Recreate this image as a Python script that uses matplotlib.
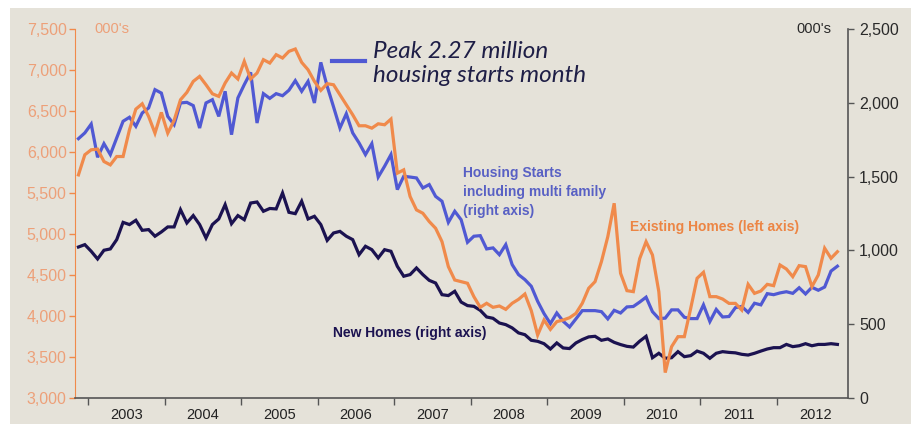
import matplotlib
matplotlib.use("Agg")
import matplotlib.pyplot as plt
import numpy as np
import pandas as pd
from matplotlib.patches import Rectangle
from matplotlib.lines import Line2D
from matplotlib.ticker import FixedLocator, NullFormatter, FixedFormatter

plt.rcParams['font.family'] = ['Liberation Sans', 'DejaVu Sans']

# ---------------- data (monthly, Nov 2002 - Oct 2012) ----------------
start_month = "2002-11"
existing_homes = [
    5721, 5966, 6027, 6035, 5884, 5843, 5945, 5945, 6271, 6523,
    6588, 6434, 6230, 6483, 6230, 6385, 6637, 6727, 6861, 6922,
    6820, 6710, 6678, 6841, 6963, 6890, 7105, 6890, 6963, 7126,
    7085, 7187, 7146, 7227, 7256, 7093, 7003, 6861, 6751, 6833,
    6820, 6698, 6576, 6454, 6320, 6320, 6291, 6344, 6332, 6401,
    5742, 5782, 5457, 5294, 5253, 5152, 5070, 4907, 4602, 4439,
    4419, 4399, 4236, 4106, 4155, 4106, 4122, 4081, 4155, 4203,
    4268, 4065, 3768, 3951, 3837, 3931, 3951, 3979, 4032, 4155,
    4338, 4419, 4663, 4968, 5375, 4521, 4309, 4297, 4700, 4906,
    4744, 4296, 3310, 3626, 3748, 3748, 4094, 4460, 4533, 4236,
    4236, 4207, 4154, 4154, 4073, 4386, 4276, 4305, 4386, 4370,
    4622, 4573, 4480, 4614, 4602, 4358, 4500, 4826, 4704, 4784,
]
housing_starts = [
    1757, 1796, 1856, 1631, 1723, 1649, 1762, 1875, 1902, 1841,
    1931, 1965, 2089, 2066, 1908, 1852, 1999, 2003, 1981, 1829,
    1999, 2021, 1908, 2078, 1784, 2033, 2123, 2206, 1863, 2062,
    2030, 2062, 2048, 2085, 2150, 2078, 2145, 1999, 2274, 2112,
    1972, 1829, 1926, 1796, 1728, 1649, 1723, 1497, 1570, 1649,
    1412, 1502, 1497, 1491, 1423, 1446, 1366, 1333, 1190, 1265,
    1208, 1055, 1096, 1100, 1010, 1017, 971, 1039, 904, 836,
    802, 757, 655, 572, 504, 576, 520, 481, 536, 592,
    592, 592, 585, 536, 594, 576, 617, 620, 650, 683,
    585, 538, 541, 597, 597, 547, 538, 538, 631, 518,
    600, 549, 552, 612, 620, 580, 642, 631, 707, 700,
    712, 720, 709, 747, 705, 750, 730, 752, 860, 893,
]
new_homes = [
    1023, 1039, 994, 942, 1001, 1010, 1073, 1190, 1175, 1204,
    1136, 1141, 1096, 1125, 1159, 1159, 1276, 1186, 1236, 1175,
    1084, 1175, 1213, 1310, 1181, 1236, 1208, 1321, 1328, 1265,
    1284, 1281, 1389, 1258, 1249, 1333, 1213, 1231, 1175, 1068,
    1118, 1129, 1096, 1073, 971, 1028, 1005, 949, 1005, 994,
    892, 825, 836, 881, 836, 797, 779, 700, 694, 723,
    650, 626, 621, 594, 549, 540, 508, 497, 475, 441,
    429, 391, 384, 368, 332, 373, 339, 335, 373, 396,
    414, 418, 391, 400, 377, 362, 350, 345, 385, 418,
    273, 303, 269, 273, 314, 280, 287, 318, 303, 269,
    303, 314, 309, 306, 296, 291, 303, 318, 332, 341,
    341, 363, 348, 354, 368, 354, 363, 363, 368, 363,
]
years = list(range(2003, 2013))
left_ticks = [3000, 3500, 4000, 4500, 5000, 5500, 6000, 6500, 7000, 7500]
right_ticks = [0, 500, 1000, 1500, 2000, 2500]

# ---------------- derived x positions (mid-month, decimal years) -------
dates = pd.date_range(start_month, periods=len(existing_homes), freq="MS")
x = dates.year + (dates.month - 0.5) / 12.0

# ---------------- styling ----------------
BG = "#e5e2d9"
ORANGE = "#f08a4b"
ORANGE_TXT = "#eda079"
BLUE = "#5059d3"
NAVY = "#1b1250"
GREY = "#555555"

W, H = 912, 424
fig = plt.figure(figsize=(W / 100, H / 100), dpi=100)
fig.patch.set_facecolor("white")
fig.add_artist(Rectangle((10 / W, 0), 1 - 10 / W, (H - 8) / H,
                         transform=fig.transFigure, facecolor=BG,
                         edgecolor="none", zorder=0))

ax = fig.add_axes([75 / W, (H - 398) / H, (848 - 75) / W, (398 - 29) / H])
ax2 = ax.twinx()
ax.set_zorder(ax2.get_zorder() + 1)
ax.patch.set_visible(False)
ax2.patch.set_visible(False)

ax2.plot(x, new_homes, color=NAVY, lw=2.3, solid_joinstyle="miter")
ax2.plot(x, housing_starts, color=BLUE, lw=2.3, solid_joinstyle="miter")
ax.plot(x, existing_homes, color=ORANGE, lw=2.3, solid_joinstyle="miter")

ax.set_xlim(2002.83, 2012.93)
ax.set_ylim(3000, 7500)
ax2.set_ylim(0, 2500)

ax.set_yticks(left_ticks)
ax.set_yticklabels([f"{v:,}" for v in left_ticks])
ax2.set_yticks(right_ticks)
ax2.set_yticklabels([f"{v:,}" for v in right_ticks])

ax.xaxis.set_major_locator(FixedLocator(years))
ax.xaxis.set_major_formatter(NullFormatter())
ax.xaxis.set_minor_locator(FixedLocator([y + 0.5 for y in years]))
ax.xaxis.set_minor_formatter(FixedFormatter([str(y) for y in years]))
ax.tick_params(axis="x", which="major", direction="out", length=5,
               width=1, color=GREY)
ax.tick_params(axis="x", which="minor", length=0, pad=7,
               labelsize=10.5, labelcolor="#222222")
ax.tick_params(axis="y", direction="out", length=4, width=1,
               color=ORANGE, labelcolor=ORANGE_TXT, labelsize=11.5, pad=2)
ax2.tick_params(axis="y", direction="out", length=4, width=1,
                color=GREY, labelcolor="#2a2a2a", labelsize=11.5, pad=4)
ax2.tick_params(axis="x", which="both", bottom=False, labelbottom=False)

for s in ("top", "right"):
    ax.spines[s].set_visible(False)
ax.spines["left"].set_color(ORANGE)
ax.spines["bottom"].set_color(GREY)
ax.spines["bottom"].set_linewidth(1.2)
for s in ("top", "left", "bottom"):
    ax2.spines[s].set_visible(False)
ax2.spines["right"].set_color(GREY)
ax2.spines["right"].set_linewidth(1.2)

def fx(px):
    return px / W

def fy(py):
    return 1 - py / H

fig.text(fx(94), fy(29), "000's", color=ORANGE_TXT, fontsize=10.5,
         ha="left", va="center")
fig.text(fx(796), fy(29), "000's", color="#2a2a2a", fontsize=10.5,
         ha="left", va="center")

# annotation for the peak
fig.add_artist(Line2D([fx(332), fx(365)], [fy(61), fy(61)],
                      transform=fig.transFigure, color=BLUE, lw=3))
hand = dict(color="#1e1e46", fontsize=17.5, style="italic",
            family=["Lato", "Liberation Sans"], fontweight="normal",
            ha="left", va="center")
fig.text(fx(373), fy(51), "Peak 2.27 million", **hand)
fig.text(fx(373), fy(75), "housing starts month", **hand)

fig.text(fx(463), fy(192), "Housing Starts\nincluding multi family\n(right axis)",
         color="#5860c4", fontsize=10, fontweight="bold", ha="left",
         va="center", linespacing=1.45)
fig.text(fx(630), fy(227), "Existing Homes (left axis)", color="#ec8544",
         fontsize=10, fontweight="bold", ha="left", va="center")
fig.text(fx(333), fy(333), "New Homes (right axis)", color=NAVY,
         fontsize=10, fontweight="bold", ha="left", va="center")

fig.savefig("out.png", dpi=100, facecolor=fig.get_facecolor())
